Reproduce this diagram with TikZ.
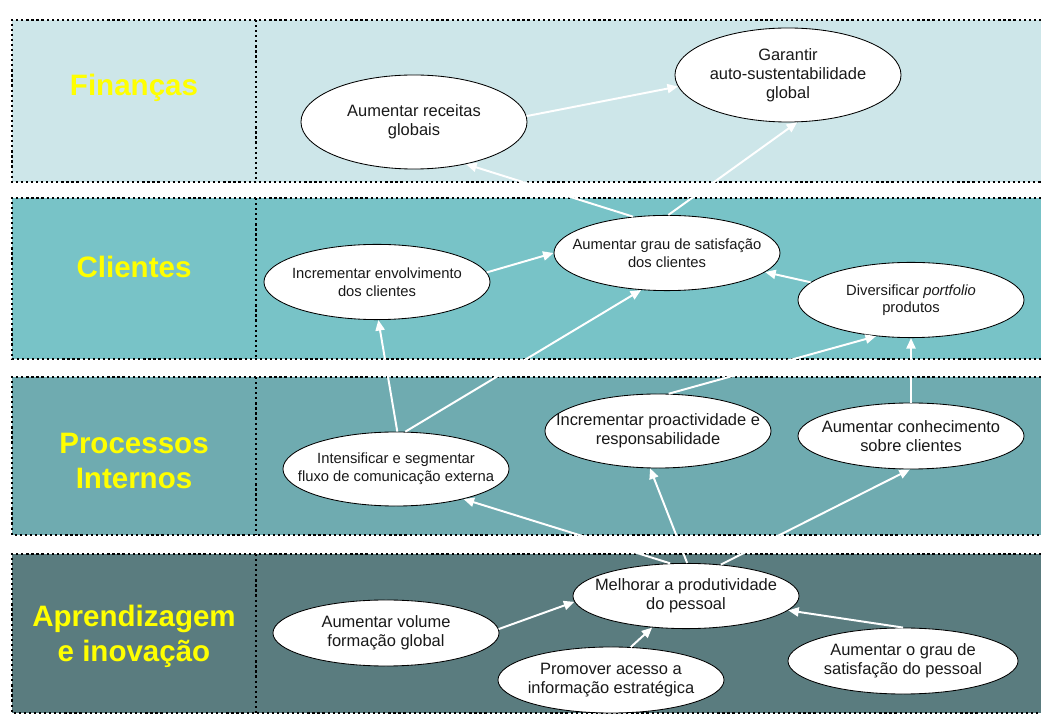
\documentclass[tikz,border=0pt]{standalone}
\usepackage{fontspec}
\setmainfont{Liberation Sans}
\usetikzlibrary{arrows.meta,shapes.geometric}
\definecolor{finbg}{RGB}{205, 230, 233}
\definecolor{clibg}{RGB}{120, 195, 199}
\definecolor{procbg}{RGB}{111, 171, 176}
\definecolor{aprbg}{RGB}{90, 124, 127}
\definecolor{lblyellow}{RGB}{255, 255, 0}
\definecolor{goaltext}{RGB}{25, 25, 25}

\begin{document}
\begin{tikzpicture}[x=0.025cm, y=-0.025cm, >={Triangle[length=7.5pt, width=6.5pt]},
    goal/.style={ellipse, draw=black, line width=0.6pt, fill=white, text=goaltext,
                 inner xsep=-20pt, inner ysep=0pt, align=center,
                 minimum width=5.65cm, minimum height=1.85cm,
                 font=\fontsize{11.7}{13.5}\selectfont},
    goalsm/.style={goal, font=\fontsize{10.5}{12.5}\selectfont},
    link/.style={->, draw=white, line width=1.4pt},
    persp/.style={text=lblyellow, align=center, font=\fontsize{21}{25}\selectfont\bfseries},
    sep/.style={line width=1.6pt, dash pattern=on 1.6pt off 2.0pt}]
            % Frame to fix the page size:
            \useasboundingbox (0,0) rectangle (1041,720);
            % Perspective bands:
            \foreach \ytop/\ybot/\bg in {20/182/finbg, 198/359/clibg, 377/535/procbg, 554/713/aprbg}{
                \fill[\bg] (12,\ytop) rectangle (1041,\ybot);
                \draw[sep] (1041,\ytop) -- (12,\ytop) -- (12,\ybot) -- (1041,\ybot);
                \draw[sep] (256,\ytop) -- (256,\ybot);
            }
            \node[persp] (lblfin)  at (134, 88) {Finanças};
            \node[persp] (lblcli)  at (134,267) {Clientes};
            \node[persp] (lblproc) at (134,461) {Processos\\Internos};
            \node[persp] (lblapr)  at (134,636) {Aprendizagem\\e inovação};
            % Objectives:
            \node[goal, minimum height=2.35cm]   (garantir) at (788, 75) {Garantir\\auto-sustentabilidade\\global};
            \node[goal, minimum height=2.35cm]   (receitas) at (414,122) {Aumentar receitas\\globais};
            \node[goalsm, minimum height=1.88cm] (satcli)   at (667,253) {Aumentar grau de satisfação\\dos clientes};
            \node[goalsm, minimum height=1.88cm] (envolv)   at (377,282) {Incrementar envolvimento\\dos clientes};
            \node[goalsm, minimum height=1.88cm] (divers)   at (911,300) {Diversificar \textit{portfolio}\\produtos};
            \node[goal]                          (proact)   at (658,431) {Incrementar proactividade e\\responsabilidade};
            \node[goal, minimum height=1.65cm]   (conhec)   at (911,436) {Aumentar conhecimento\\sobre clientes};
            \node[goalsm]                        (intens)   at (396,469) {Intensificar e segmentar\\fluxo de comunicação externa};
            \node[goal, minimum height=1.63cm]   (produt)   at (686,596) {Melhorar a produtividade\\do pessoal};
            \node[goal, minimum height=1.65cm]   (volume)   at (386,633) {Aumentar volume\\formação global};
            \node[goal, minimum height=1.65cm]   (promov)   at (611,680) {Promover acesso a\\informação estratégica};
            \node[goal, minimum height=1.65cm, minimum width=5.75cm] (satpes) at (903,661) {Aumentar o grau de\\satisfação do pessoal};
            % Cause and effect links:
            \draw[link] (receitas.3)  -- (garantir.186);
            \draw[link] (satcli.88)   -- (garantir.281);
            \draw[link] (satcli.133)  -- (receitas.321);
            \draw[link] (envolv.5)    -- (satcli.180);
            \draw[link] (intens.88)   -- (envolv.272);
            \draw[link] (intens.76)   -- (satcli.235);
            \draw[link] (divers.170)  -- (satcli.349);
            \draw[link] (proact.74)   -- (divers.226);
            \draw[link] (conhec)      -- (divers);
            \draw[link] (produt.116)  -- (intens.336);
            \draw[link] (produt.88)   -- (proact.258);
            \draw[link] (produt.42)   -- (conhec.268);
            \draw[link] (volume.2)    -- (produt.183);
            \draw[link] (promov.59)   -- (produt.223);
            \draw[link] (satpes.90)   -- (produt.352);
        \end{tikzpicture}
\end{document}
